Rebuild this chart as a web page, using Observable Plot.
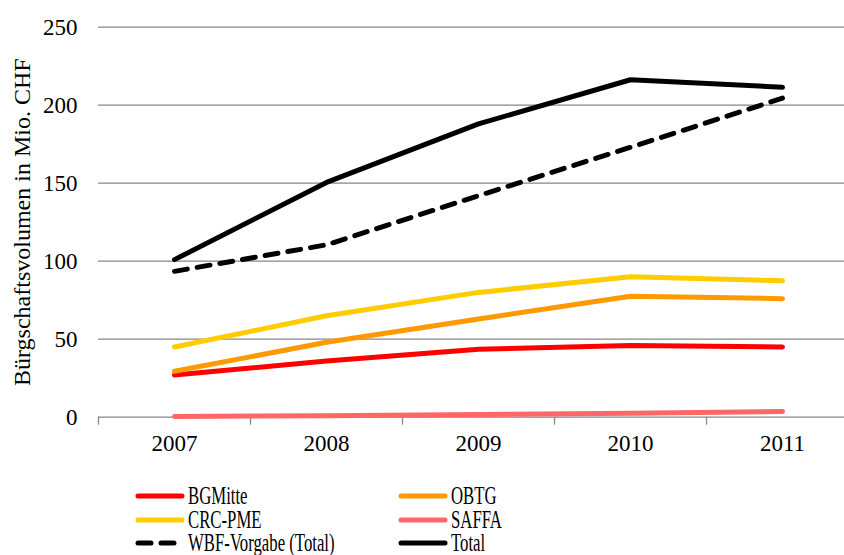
<!DOCTYPE html>
<html>
<head>
<meta charset="utf-8">
<script src="https://cdn.jsdelivr.net/npm/d3@7"></script>
<script src="https://cdn.jsdelivr.net/npm/@observablehq/plot@0.6"></script>
<style>
  html, body { margin: 0; padding: 0; background: #fff; }
  body { width: 844px; height: 555px; overflow: hidden; font-family: "Liberation Serif", "Times New Roman", serif; }
  #legend { position: relative; height: 85px; font-size: 25px; color: #000; }
  .item { position: absolute; display: flex; align-items: center; height: 26px; white-space: nowrap; }
  .item svg { margin-right: 3px; flex: none; }
  .item span { display: inline-block; transform: scaleX(0.67); transform-origin: left center; line-height: 26px; }
</style>
</head>
<body>
<div id="chart"></div>
<div id="legend"></div>
<script>
const years = [2007, 2008, 2009, 2010, 2011];
const bgmitte = [27, 36, 43.5, 46, 45];
const obtg = [29.5, 48, 63, 77.5, 76];
const crcpme = [45, 65, 80, 90, 87.5];
const saffa = [0.5, 1, 1.7, 2.6, 3.7];
const wbf = [93.5, 110.5, 142, 173, 204.5];
const total = [101, 150.5, 188, 216.3, 211.5];

const seriesNames = ["BGMitte", "OBTG", "CRC-PME", "SAFFA", "WBF-Vorgabe (Total)", "Total"];
const seriesValues = [bgmitte, obtg, crcpme, saffa, wbf, total];
const seriesColors = ["#FF0000", "#FF9900", "#FFCC00", "#FF6666", "#000000", "#000000"];
const seriesDash = [null, null, null, null, "13,10", null];
const yTicks = [0, 50, 100, 150, 200, 250];
const drawOrder = [3, 0, 1, 2, 4, 5];
const yLabel = "Bürgschaftsvolumen in Mio. CHF";

const boundaries = years.map(y => y - 0.5).concat([years[years.length - 1] + 0.5]);

const lineMarks = drawOrder.map(i => Plot.line(
  years.map((yr, j) => ({year: yr, value: seriesValues[i][j]})),
  {x: "year", y: "value", stroke: seriesColors[i], strokeWidth: 5,
   strokeLinecap: "round", strokeLinejoin: "round",
   strokeDasharray: seriesDash[i] || undefined}
));

const chart = Plot.plot({
  width: 844,
  height: 470,
  marginLeft: 98,
  marginRight: 0,
  marginTop: 26.7,
  marginBottom: 53.3,
  style: {fontFamily: '"Liberation Serif", "Times New Roman", serif', fontSize: "23px", color: "#000", background: "#fff"},
  x: {type: "linear", domain: [2006.5, 2011.5], range: [98, 858]},
  y: {domain: [0, 250], range: [416.7, 26.7]},
  marks: [
    Plot.ruleY(yTicks, {stroke: "#868686", strokeWidth: 1.3}),
    Plot.axisY(yTicks, {tickSize: 0, tickPadding: 21, fontSize: 23, label: null}),
    Plot.axisX(boundaries, {tickSize: 8, stroke: "#868686", strokeWidth: 1.3, tickFormat: () => "", label: null}),
    Plot.axisX(years, {tickSize: 0, tickPadding: 17, fontSize: 23, tickFormat: d => String(d), label: null}),
    Plot.text([yLabel], {frameAnchor: "left", textAnchor: "middle", dx: -76, dy: 0, rotate: -90, fontSize: 24, fill: "#000"}),
    ...lineMarks
  ]
});
document.getElementById("chart").appendChild(chart);

// legend
const legend = document.getElementById("legend");
const layout = [[0, 0], [1, 0], [0, 1], [1, 1], [0, 2], [1, 2]];
const colX = [135, 398];
const rowY = [26, 50, 73];
seriesNames.forEach((name, i) => {
  const [c, r] = layout[i];
  const div = document.createElement("div");
  div.className = "item";
  div.style.left = colX[c] + "px";
  div.style.top = (rowY[r] - 13) + "px";
  const dash = seriesDash[i] ? `stroke-dasharray="13,10"` : "";
  div.innerHTML = `<svg width="50" height="10"><line x1="3" y1="5" x2="${seriesDash[i] ? 44 : 47}" y2="5" stroke="${seriesColors[i]}" stroke-width="5" stroke-linecap="round" ${dash}/></svg><span>${name}</span>`;
  legend.appendChild(div);
});
</script>
</body>
</html>
